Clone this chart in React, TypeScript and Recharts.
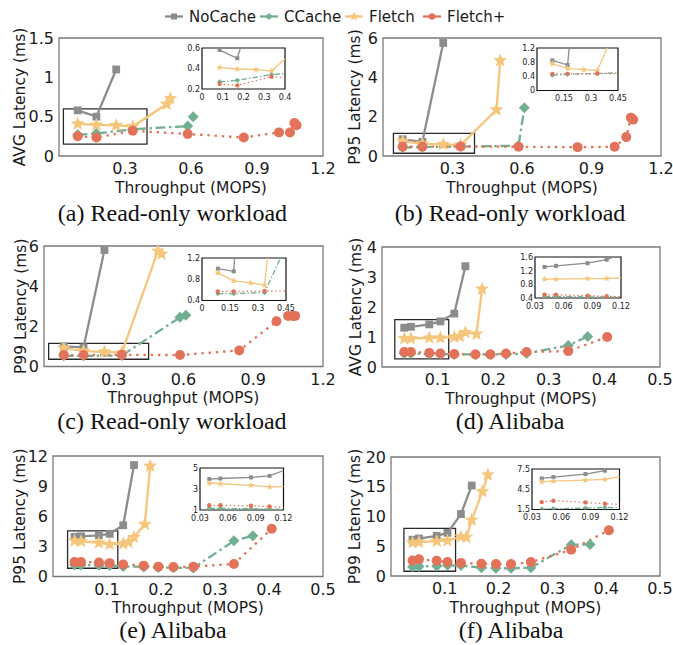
import React from 'react';
import { LineChart, Line, XAxis, YAxis, ReferenceArea } from 'recharts';

const FONT = "'DejaVu Sans', 'Liberation Sans', sans-serif";
const SERIF = "'Liberation Serif', 'DejaVu Serif', serif";

const seriesNames = ['NoCache', 'CCache', 'Fletch', 'Fletch+'];

// throughput (MOPS), read-only workload
const roNoCacheX = [0.085, 0.17, 0.26];
const roCCacheX = [0.085, 0.17, 0.335, 0.585, 0.61];
const roFletchX = [0.085, 0.17, 0.26, 0.335, 0.49, 0.506];
const roFletchPlusX = [0.085, 0.17, 0.335, 0.585, 0.84, 1.0, 1.05, 1.07, 1.08];

// throughput (MOPS), Alibaba trace
const aliNoCacheX = [0.04, 0.052, 0.085, 0.105, 0.13, 0.15];
const aliCCacheX = [0.04, 0.052, 0.085, 0.105, 0.13, 0.168, 0.195, 0.223, 0.26, 0.335, 0.37];
const aliFletchX = [0.04, 0.052, 0.085, 0.105, 0.13, 0.14, 0.15, 0.17, 0.18];
const aliFletchPlusX = [0.04, 0.052, 0.085, 0.105, 0.13, 0.168, 0.195, 0.223, 0.26, 0.335, 0.405];

// (a) read-only AVG latency (ms)
const roAvgNoCache = [0.58, 0.5, 1.1];
const roAvgCCache = [0.27, 0.285, 0.34, 0.38, 0.5];
const roAvgFletch = [0.41, 0.395, 0.39, 0.375, 0.66, 0.73];
const roAvgFletchPlus = [0.25, 0.235, 0.32, 0.28, 0.235, 0.3, 0.3, 0.42, 0.39];

// (b) read-only P95 latency (ms)
const roP95NoCache = [0.85, 0.72, 5.75];
const roP95CCache = [0.43, 0.46, 0.48, 0.52, 2.45];
const roP95Fletch = [0.76, 0.62, 0.59, 0.56, 2.35, 4.85];
const roP95FletchPlus = [0.47, 0.47, 0.48, 0.47, 0.45, 0.47, 0.96, 1.95, 1.85];

// (c) read-only P99 latency (ms)
const roP99NoCache = [1.0, 0.95, 5.8];
const roP99CCache = [0.53, 0.53, 0.55, 2.45, 2.55];
const roP99Fletch = [0.92, 0.77, 0.73, 0.69, 5.75, 5.6];
const roP99FletchPlus = [0.57, 0.57, 0.58, 0.57, 0.8, 2.25, 2.52, 2.52, 2.52];

// (d) Alibaba AVG latency (ms)
const aliAvgNoCache = [1.31, 1.34, 1.42, 1.52, 1.78, 3.36];
const aliAvgCCache = [0.45, 0.45, 0.43, 0.43, 0.42, 0.42, 0.42, 0.42, 0.45, 0.72, 1.02];
const aliAvgFletch = [0.95, 0.95, 0.97, 0.97, 1.0, 1.02, 1.15, 1.1, 2.6];
const aliAvgFletchPlus = [0.5, 0.5, 0.47, 0.45, 0.43, 0.42, 0.42, 0.45, 0.5, 0.53, 1.0];

// (e) Alibaba P95 latency (ms)
const aliP95NoCache = [3.95, 4.0, 4.1, 4.25, 5.1, 11.1];
const aliP95CCache = [1.15, 1.15, 1.12, 1.1, 1.0, 0.95, 0.9, 0.88, 0.85, 3.55, 4.05];
const aliP95Fletch = [3.55, 3.5, 3.35, 3.2, 3.25, 3.4, 3.9, 5.2, 11.0];
const aliP95FletchPlus = [1.45, 1.45, 1.4, 1.33, 1.2, 1.08, 0.98, 0.95, 0.98, 1.25, 4.75];

// (f) Alibaba P99 latency (ms)
const aliP99NoCache = [6.1, 6.3, 6.75, 7.25, 10.4, 15.2];
const aliP99CCache = [1.55, 1.6, 1.7, 1.8, 1.75, 1.4, 1.3, 1.3, 1.4, 5.25, 5.3];
const aliP99Fletch = [5.6, 5.7, 5.85, 5.95, 6.6, 6.5, 9.4, 14.2, 17.0];
const aliP99FletchPlus = [2.6, 2.8, 2.55, 2.35, 2.2, 2.05, 2.0, 2.0, 2.35, 4.4, 7.7];

// axis ticks
const roXTicks = [0.3, 0.6, 0.9, 1.2];
const aliXTicks = [0.1, 0.2, 0.3, 0.4, 0.5];

const styles = [
  { color: '#8c8c8c', dash: '', shape: 'square' },
  { color: '#72af91', dash: 'dashdot', shape: 'diamond' },
  { color: '#f5c67c', dash: '', shape: 'star' },
  { color: '#e2735a', dash: 'dot', shape: 'circle' },
];

const zip = (xs: number[], ys: number[]) => xs.map((x, i) => ({ x, y: ys[i] }));

function starPath(cx: number, cy: number, r: number) {
  let d = '';
  for (let i = 0; i < 10; i++) {
    const rad = i % 2 === 0 ? r : r * 0.43;
    const a = -Math.PI / 2 + (i * Math.PI) / 5;
    d += (i === 0 ? 'M' : 'L') + (cx + rad * Math.cos(a)).toFixed(2) + ',' + (cy + rad * Math.sin(a)).toFixed(2);
  }
  return d + 'Z';
}

type Sizes = { square: number; diamond: number; star: number; circle: number };
const bigMarks: Sizes = { square: 3.9, diamond: 5.5, star: 7.3, circle: 5 };
const smallMarks: Sizes = { square: 2, diamond: 2.6, star: 3.6, circle: 2.2 };
const legendMarks: Sizes = { square: 3, diamond: 3.6, star: 5, circle: 3.2 };

function Marker({ cx, cy, shape, color, sizes }: any) {
  if (cx == null || cy == null || isNaN(cx) || isNaN(cy)) return null;
  const s = sizes[shape];
  if (shape === 'square') return <rect x={cx - s} y={cy - s} width={2 * s} height={2 * s} fill={color} />;
  if (shape === 'diamond')
    return <path d={`M${cx},${cy - s}L${cx + s},${cy}L${cx},${cy + s}L${cx - s},${cy}Z`} fill={color} />;
  if (shape === 'star') return <path d={starPath(cx, cy, s)} fill={color} />;
  return <circle cx={cx} cy={cy} r={s} fill={color} />;
}

function dashFor(kind: string, lw: number) {
  if (kind === 'dashdot') return `${lw * 4.2} ${lw * 1.6} ${lw * 1.1} ${lw * 1.6}`;
  if (kind === 'dot') return `${lw * 1.05} ${lw * 2.1}`;
  return undefined;
}

type PanelCfg = {
  frame: number[];
  xDomain: number[];
  xTicks: number[];
  yDomain: number[];
  yTicks: number[];
  yLabel: string;
  yLabelX: number;
  box: number[];
  series: { x: number[]; y: number[] }[];
  inset: { frame: number[]; xDomain: number[]; xTicks: number[]; yDomain: number[]; yTicks: number[] };
  caption: string;
  captionX: number;
  captionY: number;
};

const panels: PanelCfg[] = [
  {
    frame: [59, 38, 323, 156],
    xDomain: [0, 1.2], xTicks: roXTicks, yDomain: [0, 1.5], yTicks: [0, 0.5, 1, 1.5],
    yLabel: 'AVG Latency (ms)', yLabelX: 19,
    box: [0.02, 0.4, 0.15, 0.6],
    series: [
      { x: roNoCacheX, y: roAvgNoCache },
      { x: roCCacheX, y: roAvgCCache },
      { x: roFletchX, y: roAvgFletch },
      { x: roFletchPlusX, y: roAvgFletchPlus },
    ],
    inset: { frame: [202, 47.5, 285, 88.5], xDomain: [0, 0.4], xTicks: [0, 0.1, 0.2, 0.3, 0.4], yDomain: [0.2, 0.6], yTicks: [0.2, 0.4, 0.6] },
    caption: '(a) Read-only workload', captionX: 172.5, captionY: 221,
  },
  {
    frame: [383, 38, 661, 156],
    xDomain: [0, 1.2], xTicks: roXTicks, yDomain: [0, 6], yTicks: [0, 2, 4, 6],
    yLabel: 'P95 Latency (ms)', yLabelX: 354,
    box: [0.045, 0.395, 0.14, 1.15],
    series: [
      { x: roNoCacheX, y: roP95NoCache },
      { x: roCCacheX, y: roP95CCache },
      { x: roFletchX, y: roP95Fletch },
      { x: roFletchPlusX, y: roP95FletchPlus },
    ],
    inset: { frame: [536.5, 48, 617.5, 90.5], xDomain: [0, 0.45], xTicks: [0.15, 0.3, 0.45], yDomain: [0, 1.2], yTicks: [0, 0.4, 0.8, 1.2] },
    caption: '(b) Read-only workload', captionX: 510, captionY: 221,
  },
  {
    frame: [44, 246, 323, 366.5],
    xDomain: [0, 1.2], xTicks: roXTicks, yDomain: [0, 6], yTicks: [0, 2, 4, 6],
    yLabel: 'P99 Latency (ms)', yLabelX: 20,
    box: [0.02, 0.45, 0.36, 1.15],
    series: [
      { x: roNoCacheX, y: roP99NoCache },
      { x: roCCacheX, y: roP99CCache },
      { x: roFletchX, y: roP99Fletch },
      { x: roFletchPlusX, y: roP99FletchPlus },
    ],
    inset: { frame: [201.5, 257.5, 285.5, 300], xDomain: [0, 0.45], xTicks: [0, 0.15, 0.3, 0.45], yDomain: [0.4, 1.2], yTicks: [0.4, 0.8, 1.2] },
    caption: '(c) Read-only workload', captionX: 172, captionY: 429,
  },
  {
    frame: [382, 246.5, 660, 366.5],
    xDomain: [0, 0.5], xTicks: aliXTicks, yDomain: [0, 4], yTicks: [0, 1, 2, 3, 4],
    yLabel: 'AVG Latency (ms)', yLabelX: 355,
    box: [0.023, 0.12, 0.27, 1.58],
    series: [
      { x: aliNoCacheX, y: aliAvgNoCache },
      { x: aliCCacheX, y: aliAvgCCache },
      { x: aliFletchX, y: aliAvgFletch },
      { x: aliFletchPlusX, y: aliAvgFletchPlus },
    ],
    inset: { frame: [534.5, 256.5, 620.5, 297.5], xDomain: [0.03, 0.12], xTicks: [0.03, 0.06, 0.09, 0.12], yDomain: [0.4, 1.6], yTicks: [0.4, 0.8, 1.2, 1.6] },
    caption: '(d) Alibaba', captionX: 510, captionY: 429,
  },
  {
    frame: [53, 456, 323, 576.5],
    xDomain: [0, 0.5], xTicks: aliXTicks, yDomain: [0, 12], yTicks: [0, 3, 6, 9, 12],
    yLabel: 'P95 Latency (ms)', yLabelX: 19,
    box: [0.027, 0.12, 0.82, 4.55],
    series: [
      { x: aliNoCacheX, y: aliP95NoCache },
      { x: aliCCacheX, y: aliP95CCache },
      { x: aliFletchX, y: aliP95Fletch },
      { x: aliFletchPlusX, y: aliP95FletchPlus },
    ],
    inset: { frame: [200, 467.5, 283.5, 509.5], xDomain: [0.03, 0.12], xTicks: [0.03, 0.06, 0.09, 0.12], yDomain: [1, 5], yTicks: [1, 3, 5] },
    caption: '(e) Alibaba', captionX: 173, captionY: 638,
  },
  {
    frame: [391, 456.5, 660, 575.5],
    xDomain: [0, 0.5], xTicks: aliXTicks, yDomain: [0, 20], yTicks: [0, 5, 10, 15, 20],
    yLabel: 'P99 Latency (ms)', yLabelX: 354,
    box: [0.024, 0.12, 0.8, 8],
    series: [
      { x: aliNoCacheX, y: aliP99NoCache },
      { x: aliCCacheX, y: aliP99CCache },
      { x: aliFletchX, y: aliP99Fletch },
      { x: aliFletchPlusX, y: aliP99FletchPlus },
    ],
    inset: { frame: [531.5, 469, 619, 509.5], xDomain: [0.03, 0.12], xTicks: [0.03, 0.06, 0.09, 0.12], yDomain: [1.5, 7.5], yTicks: [1.5, 4.5, 7.5] },
    caption: '(f) Alibaba', captionX: 511, captionY: 638,
  },
];

const L = 50, R = 14, T = 10, B = 45;

function MainChart({ p }: { p: PanelCfg }) {
  const [fx0, fy0, fx1, fy1] = p.frame;
  const w = fx1 - fx0;
  const h = fy1 - fy0;
  const left = fx0 - L;
  return (
    <div style={{ position: 'absolute', left, top: fy0 - T }}>
      <LineChart width={w + L + R} height={h + T + B} margin={{ top: T, right: R, left: 0, bottom: 0 }}>
        <XAxis
          type="number" dataKey="x" domain={p.xDomain} ticks={p.xTicks} interval={0}
          axisLine={false} tickLine={false} tickSize={0} tickMargin={7} height={B}
          tick={{ fontSize: 16, fill: '#1a1a1a', fontFamily: FONT }}
          label={{ value: 'Throughput (MOPS)', position: 'insideBottom', offset: 8.5, style: { fontSize: 15.5, fill: '#1a1a1a', fontFamily: FONT } }}
        />
        <YAxis
          type="number" domain={p.yDomain} ticks={p.yTicks} interval={0} width={L}
          axisLine={false} tickLine={false} tickSize={0} tickMargin={5}
          tick={{ fontSize: 16, fill: '#1a1a1a', fontFamily: FONT }}
          label={{ value: p.yLabel, angle: -90, position: 'insideLeft', offset: p.yLabelX - left, style: { textAnchor: 'middle', fontSize: 15.5, fill: '#1a1a1a', fontFamily: FONT } }}
        />
        <ReferenceArea x1={p.xDomain[0]} x2={p.xDomain[1]} y1={p.yDomain[0]} y2={p.yDomain[1]} fill="none" fillOpacity={0} stroke="#7a7a7a" strokeWidth={1.3} />
        <ReferenceArea x1={p.box[0]} x2={p.box[1]} y1={p.box[2]} y2={p.box[3]} fill="none" fillOpacity={0} stroke="#2a2a2a" strokeWidth={1.3} />
        {p.series.map((s, i) => (
          <Line
            key={seriesNames[i]} name={seriesNames[i]} data={zip(s.x, s.y)} dataKey="y" type="linear"
            stroke={styles[i].color} strokeWidth={2.3} strokeDasharray={dashFor(styles[i].dash, 2.3)}
            isAnimationActive={false} activeDot={false}
            dot={(props: any) => <Marker key={`${i}-${props.index}`} cx={props.cx} cy={props.cy} shape={styles[i].shape} color={styles[i].color} sizes={bigMarks} />}
          />
        ))}
      </LineChart>
    </div>
  );
}

const IL = 24, IR = 12, IT = 5, IB = 17;

function InsetChart({ p }: { p: PanelCfg }) {
  const ins = p.inset;
  const [fx0, fy0, fx1, fy1] = ins.frame;
  const w = fx1 - fx0;
  const h = fy1 - fy0;
  return (
    <div style={{ position: 'absolute', left: fx0 - IL, top: fy0 - IT }}>
      <LineChart width={w + IL + IR} height={h + IT + IB} margin={{ top: IT, right: IR, left: 0, bottom: 0 }}>
        <XAxis
          type="number" dataKey="x" domain={ins.xDomain} ticks={ins.xTicks} interval={0} allowDataOverflow
          axisLine={false} tickLine={false} tickSize={0} tickMargin={5} height={IB}
          tick={{ fontSize: 8, fill: '#1a1a1a', fontFamily: FONT }}
        />
        <YAxis
          type="number" domain={ins.yDomain} ticks={ins.yTicks} interval={0} width={IL} allowDataOverflow
          axisLine={false} tickLine={false} tickSize={0} tickMargin={2}
          tick={{ fontSize: 8, fill: '#1a1a1a', fontFamily: FONT }}
        />
        <ReferenceArea x1={ins.xDomain[0]} x2={ins.xDomain[1]} y1={ins.yDomain[0]} y2={ins.yDomain[1]} fill="#ffffff" fillOpacity={1} stroke="#111" strokeWidth={1.2} />
        {p.series.map((s, i) => (
          <Line
            key={seriesNames[i]} name={seriesNames[i]} data={zip(s.x, s.y)} dataKey="y" type="linear"
            stroke={styles[i].color} strokeWidth={1.3} strokeDasharray={dashFor(styles[i].dash, 1.3)}
            isAnimationActive={false} activeDot={false}
            dot={(props: any) => <Marker key={`${i}-${props.index}`} cx={props.cx} cy={props.cy} shape={styles[i].shape} color={styles[i].color} sizes={smallMarks} />}
          />
        ))}
      </LineChart>
    </div>
  );
}

const legendX = [165, 260, 345, 423];

export default function App() {
  return (
    <div style={{ position: 'absolute', left: 0, top: 0, width: 673, height: 645, background: '#fff', overflow: 'hidden' }}>
      {panels.map((p, k) => (
        <React.Fragment key={k}>
          <MainChart p={p} />
          <InsetChart p={p} />
        </React.Fragment>
      ))}
      <svg width={673} height={645} style={{ position: 'absolute', left: 0, top: 0, pointerEvents: 'none' }}>
        {seriesNames.map((n, i) => (
          <g key={n}>
            <line x1={legendX[i]} x2={legendX[i] + 18} y1={16.5} y2={16.5} stroke={styles[i].color} strokeWidth={2.3} />
            <Marker cx={legendX[i] + 9} cy={16.5} shape={styles[i].shape} color={styles[i].color} sizes={legendMarks} />
            <text x={legendX[i] + 24} y={22} fontSize={15} fill="#1a1a1a" fontFamily={FONT}>{n}</text>
          </g>
        ))}
        {panels.map((p) => (
          <text key={p.caption} x={p.captionX} y={p.captionY} textAnchor="middle" fontSize={24} fill="#111" fontFamily={SERIF}>
            {p.caption}
          </text>
        ))}
      </svg>
    </div>
  );
}
